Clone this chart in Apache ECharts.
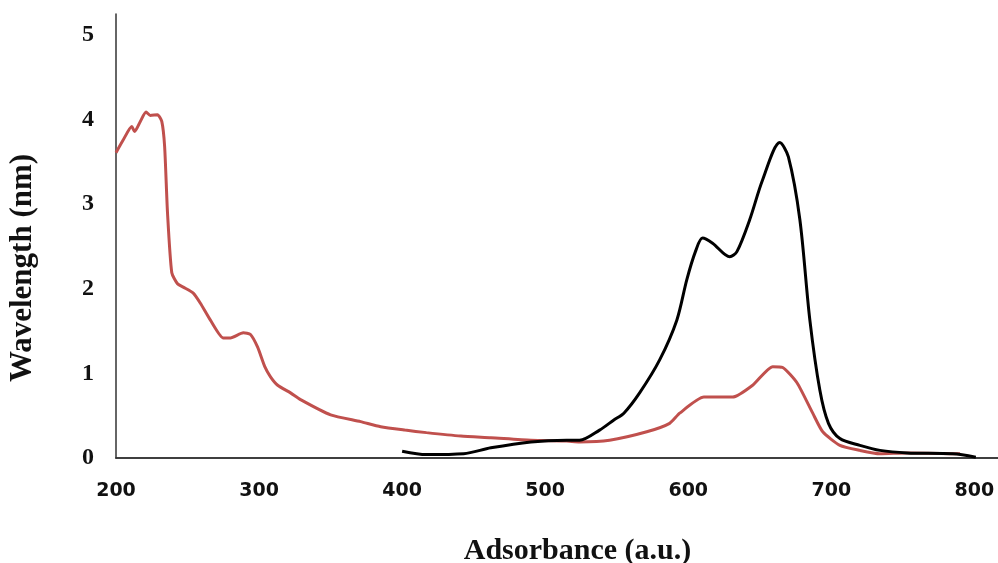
<!DOCTYPE html>
<html>
<head>
<meta charset="utf-8">
<script src="https://cdn.jsdelivr.net/npm/echarts@6/dist/echarts.min.js"></script>
<style>
  html, body { margin: 0; padding: 0; background: #fff; }
  #chart { width: 998px; height: 563px; }
</style>
</head>
<body>
<div id="chart"></div>
<script>
// red spectrum
var redX = [200, 205, 211, 213, 217, 221, 224, 229, 232, 234, 236, 239, 243, 247, 254, 259, 266, 275, 280, 289, 294, 299, 304, 308, 313, 322, 329, 350, 371, 385, 402, 417, 441, 462, 490, 515, 524, 545, 571, 587, 594, 611, 631, 645, 659, 666, 676, 687, 694, 706, 720, 734, 753, 790];
var redY = [3.61, 3.76, 3.92, 3.86, 3.98, 4.09, 4.05, 4.06, 3.98, 3.68, 2.90, 2.19, 2.06, 2.02, 1.95, 1.83, 1.63, 1.42, 1.42, 1.48, 1.46, 1.31, 1.08, 0.96, 0.86, 0.77, 0.69, 0.51, 0.43, 0.37, 0.33, 0.30, 0.26, 0.24, 0.21, 0.20, 0.19, 0.21, 0.31, 0.41, 0.53, 0.72, 0.72, 0.86, 1.08, 1.07, 0.89, 0.53, 0.31, 0.15, 0.09, 0.05, 0.06, 0.05];

// black spectrum
var blackX = [400, 417, 443, 462, 490, 515, 524, 538, 548, 555, 566, 580, 592, 599, 605, 610, 617, 629, 634, 643, 652, 664, 670, 678, 685, 692, 698, 706, 720, 734, 753, 785, 801];
var blackY = [0.08, 0.04, 0.05, 0.12, 0.19, 0.21, 0.21, 0.33, 0.45, 0.53, 0.77, 1.16, 1.63, 2.11, 2.44, 2.60, 2.54, 2.38, 2.44, 2.82, 3.29, 3.73, 3.56, 2.82, 1.63, 0.80, 0.41, 0.23, 0.15, 0.09, 0.06, 0.05, 0.01];

var xTicks = [200, 300, 400, 500, 600, 700, 800];
var yTicks = [0, 1, 2, 3, 4, 5];

function pairs(xs, ys) {
    return xs.map(function (x, i) { return [x, ys[i]]; });
}

var dom = document.getElementById('chart');
var myChart = echarts.init(dom, null, { renderer: 'canvas' });

var option = {
    backgroundColor: '#fff',
    animation: false,
    grid: { left: 116, right: -5, top: 14, bottom: 105, outerBoundsMode: 'none', containLabel: false },
    xAxis: [
        {
            type: 'value',
            min: 200,
            max: 820,
            interval: 100,
            axisLine: { show: true, onZero: false, lineStyle: { color: '#333', width: 1.5 } },
            axisTick: { show: false },
            splitLine: { show: false },
            axisLabel: {
                margin: 24,
                color: '#111',
                fontFamily: '"DejaVu Sans", sans-serif',
                fontWeight: 'bold',
                fontSize: 19,
                formatter: function (v) { return xTicks.indexOf(v) >= 0 ? String(v) : ''; }
            },
            name: 'Adsorbance (a.u.)',
            nameLocation: 'middle',
            nameGap: 78,
            nameTextStyle: { fontFamily: 'Liberation Serif, serif', fontWeight: 'bold', fontSize: 30, color: '#111', padding: [0, 0, 0, 36] }
        },
        {
            type: 'value',
            position: 'top',
            min: 200,
            max: 820,
            axisLine: { show: true, lineStyle: { color: '#333', width: 1.5 } },
            axisTick: { show: false },
            axisLabel: { show: false },
            splitLine: { show: false }
        }
    ],
    yAxis: {
        type: 'value',
        min: 0,
        max: 5.25,
        interval: 1,
        axisLine: { show: true, lineStyle: { color: '#333', width: 1.5 } },
        axisTick: { show: false },
        splitLine: { show: false },
        axisLabel: {
            margin: 22,
            color: '#111',
            fontFamily: 'Liberation Serif, serif',
            fontWeight: 'bold',
            fontSize: 24,
            formatter: function (v) { return yTicks.indexOf(v) >= 0 ? String(v) : ''; }
        },
        name: 'Wavelength (nm)',
        nameLocation: 'middle',
        nameRotate: 90,
        nameGap: 78,
        nameTextStyle: { fontFamily: 'Liberation Serif, serif', fontWeight: 'bold', fontSize: 31, color: '#111', padding: [0, 64, 0, 0] }
    },
    series: [
        {
            type: 'line',
            data: pairs(redX, redY),
            showSymbol: false,
            smooth: 0.2,
            lineStyle: { color: '#c0504d', width: 3 },
            z: 2
        },
        {
            type: 'line',
            data: pairs(blackX, blackY),
            showSymbol: false,
            smooth: 0.3,
            lineStyle: { color: '#000', width: 3 },
            z: 3
        }
    ]
};

myChart.setOption(option);
window.addEventListener('resize', myChart.resize);
</script>
</body>
</html>
